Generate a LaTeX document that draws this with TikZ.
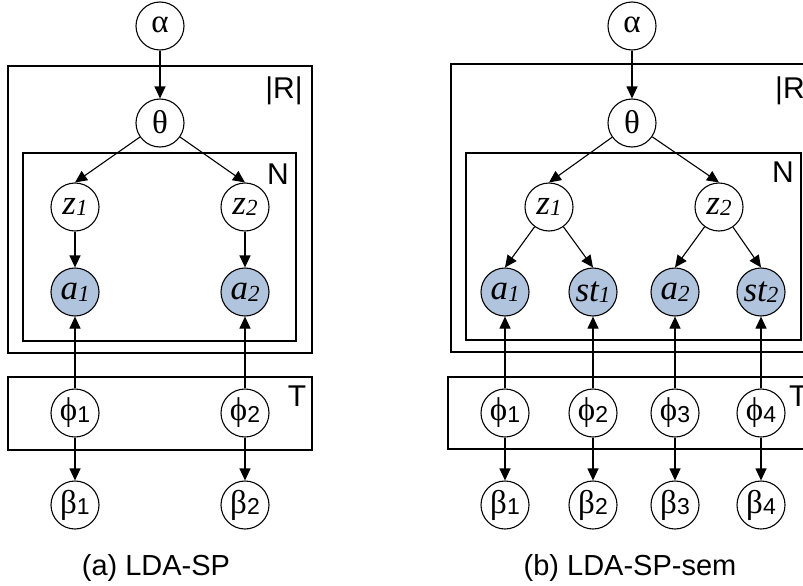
\documentclass[tikz,border=0pt]{standalone}
\usepackage{fontspec}
\setmainfont{Liberation Sans}
\newfontfamily\grk{Liberation Serif}
\usetikzlibrary{arrows.meta}
\definecolor{obsfill}{RGB}{176,196,222}
\newcommand\gsub[1]{\raisebox{-0.3ex}{\fontsize{23}{23}\selectfont #1}}
\newcommand\isub[1]{\raisebox{-0.3ex}{\grk\fontsize{23}{23}\selectfont\itshape #1}}
\newcommand\gk[2]{{\grk\fontsize{33}{33}\selectfont #1}\gsub{#2}}
\newcommand\iv[2]{{\grk\fontsize{35}{35}\selectfont\itshape #1}\isub{#2}}
\tikzset{
  var/.style={circle, draw, line width=1.1pt, fill=white, minimum size=48pt, inner sep=-12pt},
  obs/.style={var, fill=obsfill},
  plate/.style={draw, line width=1.1pt},
  edge/.style={line width=1.1pt, -{Triangle[length=12pt,width=11pt]}},
  platelab/.style={font=\fontsize{30}{30}\selectfont, inner sep=0pt},
  caption/.style={font=\fontsize{29}{29}\selectfont, inner sep=0pt}
}
\begin{document}
\begin{tikzpicture}[x=1pt, y=-1pt]
\useasboundingbox (0,0) rectangle (803,586);
\clip (0,0) rectangle (803,586);
% ---------- (a) ----------
\draw[plate] (8,66) rectangle (312,353);
\draw[plate] (23,153) rectangle (296,341);
\draw[plate] (8,377) rectangle (312,450);
\node[platelab, anchor=base] (Ra) at (284,98) {|R|};
\node[platelab, anchor=base] (Na) at (278,184) {N};
\node[platelab, anchor=base] (Ta) at (297,406) {T};
\node[var] (alphaA) at (160,26) {\gk{α}{}};
\node[var] (thetaA) at (160,123) {\gk{θ}{}};
\node[var] (z1A) at (75,207) {\iv{z}{1}};
\node[var] (z2A) at (245,207) {\iv{z}{2}};
\node[obs] (a1A) at (75,292) {\iv{a}{1}};
\node[obs] (a2A) at (245,292) {\iv{a}{2}};
\node[var] (phi1A) at (75,413) {\gk{ϕ}{1}};
\node[var] (phi2A) at (245,413) {\gk{ϕ}{2}};
\node[var] (beta1A) at (75,505) {\gk{β}{1}};
\node[var] (beta2A) at (245,505) {\gk{β}{2}};
\draw[edge] (alphaA) -- (thetaA);
\draw[edge] (thetaA) -- (z1A.north);
\draw[edge] (thetaA) -- (z2A.north);
\draw[edge] (z1A) -- (a1A);
\draw[edge] (z2A) -- (a2A);
\draw[edge] (phi1A) -- (a1A);
\draw[edge] (phi2A) -- (a2A);
\draw[edge] (phi1A) -- (beta1A);
\draw[edge] (phi2A) -- (beta2A);
\node[caption] (capA) at (156,568) {(a) LDA-SP};
% ---------- (b) ----------
\draw[plate] (451,64) rectangle (830,352);
\draw[plate] (466,153) rectangle (801,340);
\draw[plate] (448,377) rectangle (830,449);
\node[platelab, anchor=base west] (Rb) at (775,98) {|R|};
\node[platelab, anchor=base] (Nb) at (783,182) {N};
\node[platelab, anchor=base west] (Tb) at (789,406) {T};
\node[var] (alphaB) at (632,26) {\gk{α}{}};
\node[var] (thetaB) at (632,123) {\gk{θ}{}};
\node[var] (z1B) at (549,207) {\iv{z}{1}};
\node[var] (z2B) at (719,207) {\iv{z}{2}};
\node[obs] (a1B) at (505,292) {\iv{a}{1}};
\node[obs] (st1B) at (593,292) {\iv{st}{1}};
\node[obs] (a2B) at (675,292) {\iv{a}{2}};
\node[obs] (st2B) at (761,292) {\iv{st}{2}};
\node[var] (phi1B) at (505,413) {\gk{ϕ}{1}};
\node[var] (phi2B) at (593,413) {\gk{ϕ}{2}};
\node[var] (phi3B) at (675,413) {\gk{ϕ}{3}};
\node[var] (phi4B) at (761,413) {\gk{ϕ}{4}};
\node[var] (beta1B) at (505,505) {\gk{β}{1}};
\node[var] (beta2B) at (593,505) {\gk{β}{2}};
\node[var] (beta3B) at (675,505) {\gk{β}{3}};
\node[var] (beta4B) at (761,505) {\gk{β}{4}};
\draw[edge] (alphaB) -- (thetaB);
\draw[edge] (thetaB) -- (z1B.north);
\draw[edge] (thetaB) -- (z2B.north);
\draw[edge] (z1B) -- (a1B.north);
\draw[edge] (z1B) -- (st1B.north);
\draw[edge] (z2B) -- (a2B.north);
\draw[edge] (z2B) -- (st2B.north);
\draw[edge] (phi1B) -- (a1B);
\draw[edge] (phi2B) -- (st1B);
\draw[edge] (phi3B) -- (a2B);
\draw[edge] (phi4B) -- (st2B);
\draw[edge] (phi1B) -- (beta1B);
\draw[edge] (phi2B) -- (beta2B);
\draw[edge] (phi3B) -- (beta3B);
\draw[edge] (phi4B) -- (beta4B);
\node[caption] (capB) at (630,568) {(b) LDA-SP-sem};
\end{tikzpicture}
\end{document}
